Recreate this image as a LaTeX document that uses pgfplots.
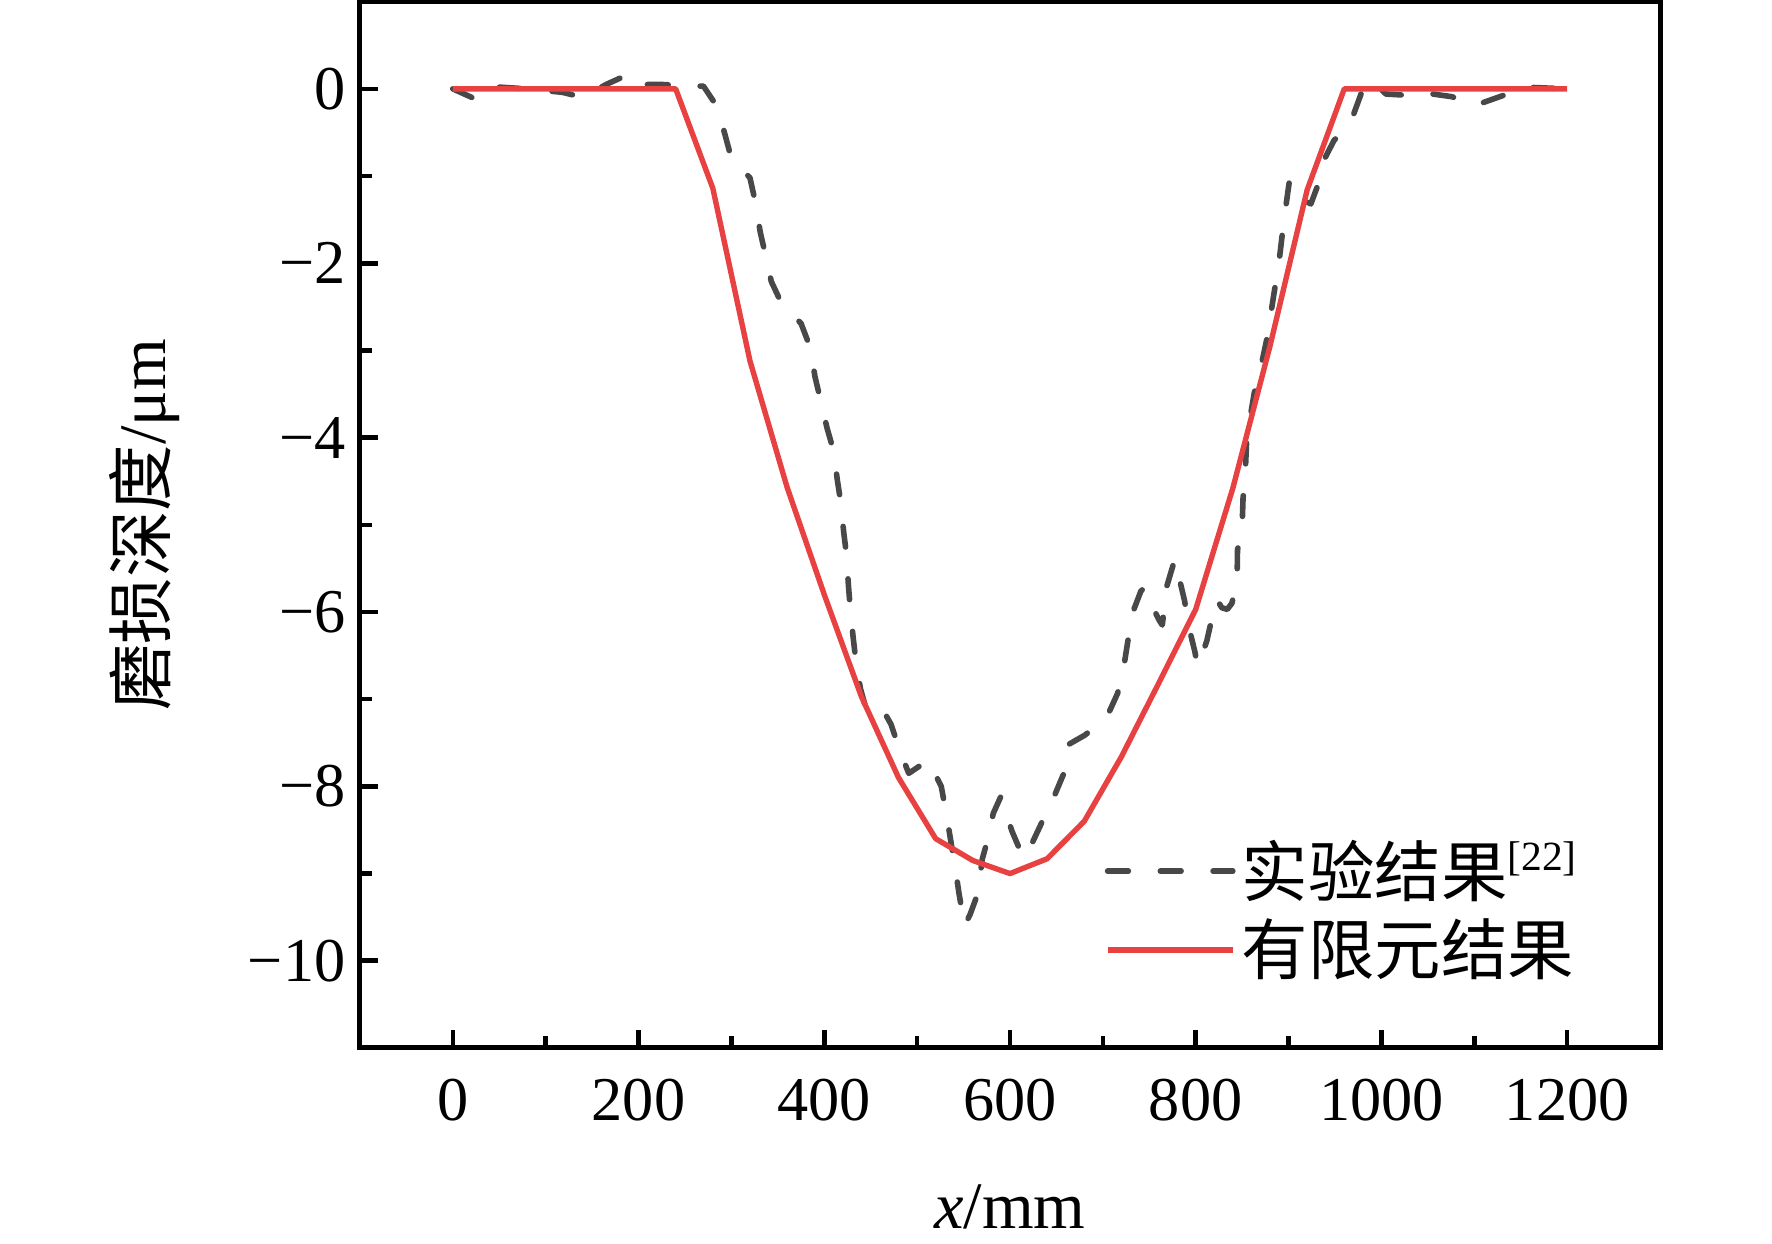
\documentclass[border=0pt]{standalone}
\usepackage{fontspec}
\setmainfont{Liberation Serif}
\newfontfamily\cjk{Noto Sans CJK SC}
\usepackage{pgfplots}
\pgfplotsset{compat=1.18}
\definecolor{fered}{RGB}{232,65,65}
\definecolor{expgray}{RGB}{72,72,72}
\begin{document}
\begin{tikzpicture}
\begin{axis}[
  at={(0,0)}, anchor=south west,
  scale only axis, width=11.005cm, height=8.857cm,
  xmin=-100, xmax=1300, ymin=-11, ymax=1,
  xtick={0,200,...,1200}, xticklabels={0,200,400,600,800,1000,1200},
  ytick={-10,-8,...,0}, yticklabels={−10,−8,−6,−4,−2,0},
  minor x tick num=1, minor y tick num=1,
  tick pos=left, tick align=inside,
  major tick length=0.15cm, minor tick length=0.1cm,
  tick style={line width=1.1pt, black},
  axis line style={line width=1.2pt},
  ticklabel style={font=\fontsize{15}{18}\selectfont},
  xticklabel style={yshift=-4pt},
  xlabel={\textit{x}/mm}, ylabel={{\cjk 磨损深度}/μm},
  label style={font=\fontsize{16}{19}\selectfont},
  xlabel style={at={(axis description cs:0.5,-0.152)}, anchor=center},
  ylabel style={at={(axis description cs:-0.1654,0.5)}, anchor=center},
  legend style={draw=none, fill=none, at={(rel axis cs:0.5723,0.2055)}, anchor=north west,
    inner sep=0pt, row sep=1pt, nodes={inner sep=1.5pt}, font=\fontsize{16}{19}\selectfont},
  legend cell align=left,
  legend image code/.code={\draw[#1] (0cm,0cm) -- (1.06cm,0cm);},
]
\addplot[expgray, line width=1.35pt, line cap=round, line join=round, dash pattern=on 5pt off 7.7pt] coordinates {
(0,0) (27,-0.13) (50,0.02) (80,0.0) (118,-0.04) (141,-0.10) (165,0.05) (190,0.17)
(205,0.05) (225,0.05) (247,0.04) (270,0.03) (285,-0.21) (294,-0.56) (300,-0.80)
(320,-1.02) (326,-1.31) (331,-1.64) (337,-1.92) (343,-2.21) (354,-2.46) (375,-2.69)
(385,-2.97) (390,-3.30) (396,-3.57) (403,-3.89) (410,-4.15) (414,-4.48) (418,-4.76)
(421,-5.09) (424,-5.35) (426,-5.69) (428,-5.96) (431,-6.28) (434,-6.56) (439,-6.88)
(445,-7.11) (461,-7.08) (472,-7.29) (482,-7.61) (491,-7.85) (512,-7.70) (526,-8.00)
(532,-8.35) (536,-8.61) (541,-8.93) (545,-9.22) (551,-9.60) (557,-9.47) (566,-9.21)
(570,-8.84) (576,-8.61) (582,-8.31) (590,-8.12) (602,-8.51) (612,-8.76) (617,-8.82)
(623,-8.67) (634,-8.42) (647,-8.13) (658,-7.85) (663,-7.52) (681,-7.41) (705,-7.19)
(716,-6.93) (723,-6.60) (727,-6.33) (732,-6.01) (741,-5.76) (745,-5.72) (751,-5.89)
(761,-6.10) (764,-6.15) (769,-5.70) (776,-5.45) (780,-5.40) (782,-5.60) (788,-5.87)
(793,-6.19) (799,-6.45) (802,-6.62) (804,-6.58) (812,-6.33) (819,-6.00) (823,-5.86)
(828,-5.95) (834,-5.97) (839,-5.90) (844.6,-5.63) (845,-5.29) (850,-5.02) (851,-4.69)
(853,-4.50) (855,-4.00) (858,-3.81) (863,-3.49) (869,-3.25) (876,-2.90) (880,-2.64)
(885,-2.30) (889,-2.05) (893,-1.69) (896,-1.43) (901,-1.05) (903,-1.08) (915,-1.27)
(924,-1.32) (931,-1.12) (936,-0.86) (949,-0.59) (958,-0.50) (967,-0.38) (978,-0.06)
(989,0.10) (1005,-0.06) (1022,-0.07) (1049,-0.05) (1076,-0.09) (1101,-0.19) (1130,-0.08)
(1153,0.02) (1200,0)
};
\addlegendentry{{\cjk 实验结果}\textsuperscript{\fontsize{10}{12}\selectfont[22]}}
\addplot[fered, line width=1.3pt, line join=round] coordinates {
(0,0) (240,0) (280,-1.14) (320,-3.12) (360,-4.57) (400,-5.80) (440,-6.97) (480,-7.90)
(520,-8.60) (560,-8.85) (600,-9.00) (640,-8.83) (680,-8.40) (720,-7.66) (760,-6.82)
(800,-5.97) (840,-4.58) (880,-2.95) (920,-1.16) (960,0) (1200,0)
};
\addlegendentry{{\cjk 有限元结果}}
\end{axis}
\pgfresetboundingbox
\path[use as bounding box] (-3.047cm,-1.659cm) rectangle (11.953cm,8.871cm);
\end{tikzpicture}
\end{document}
